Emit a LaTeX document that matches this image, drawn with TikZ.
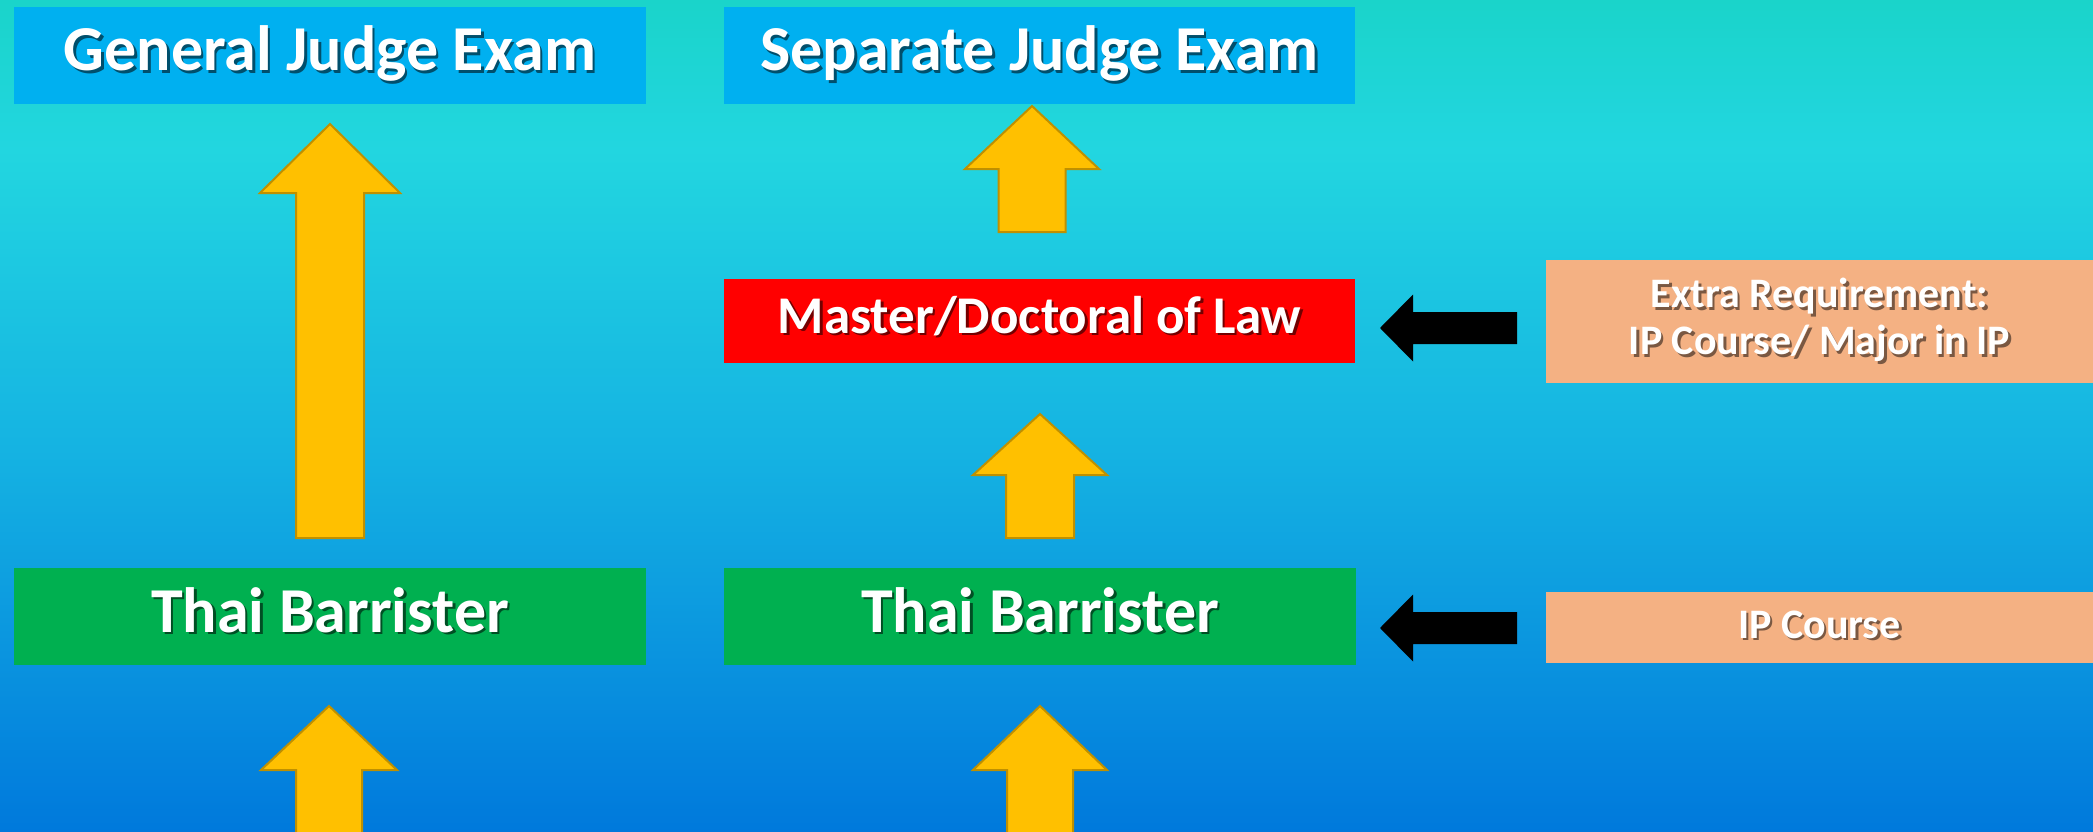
\documentclass[tikz,border=0pt]{standalone}
\usepackage{fontspec}
\setmainfont{Carlito}
\usetikzlibrary{calc}
\definecolor{bgtop}{HTML}{1AD4CA}
\definecolor{bgup}{HTML}{22D6E0}
\definecolor{bgmid}{HTML}{15B3E2}
\definecolor{bgbot}{HTML}{0079DC}
\definecolor{exam}{HTML}{00B0F0}
\definecolor{bar}{HTML}{00B050}
\definecolor{mast}{HTML}{FF0000}
\definecolor{req}{HTML}{F4B183}
\definecolor{gold}{HTML}{FFC000}
\definecolor{goldline}{HTML}{BF9000}
\pgfdeclareverticalshading{bgshade}{100bp}{color(0bp)=(bgbot); color(25bp)=(bgbot); color(48bp)=(bgmid); color(66bp)=(bgup); color(75bp)=(bgtop); color(100bp)=(bgtop)}
\newcommand\shd[2]{\makebox[0pt][l]{\kern2.5pt\raisebox{-2.5pt}{\textcolor{#1}{#2}}}#2}
\newcommand\uparr[6]{\filldraw[goldarrow] (#1,#2) -- ({#1+#5},#3) -- ({#1+#6},#3) -- ({#1+#6},#4) -- ({#1-#6},#4) -- ({#1-#6},#3) -- ({#1-#5},#3) -- cycle;}
\newcommand\leftarr[2]{\fill[blackarrow] (#1,#2) -- ({#1+33},{#2-33.5}) -- ({#1+33},{#2-16}) -- ({#1+137},{#2-16}) -- ({#1+137},{#2+16}) -- ({#1+33},{#2+16}) -- ({#1+33},{#2+33.5}) -- cycle;}
\tikzset{
  box/.style={rectangle, inner sep=0pt, text=white, align=center},
  bigtxt/.style={font=\fontsize{64}{70}\selectfont\bfseries, text height=46pt, text depth=15pt},
  midtxt/.style={font=\fontsize{53}{58}\selectfont\bfseries, text height=38pt, text depth=14pt},
  smalltxt/.style={font=\fontsize{42}{47}\selectfont\bfseries},
  goldarrow/.style={fill=gold, draw=goldline, line width=2pt, line join=miter},
  blackarrow/.style={fill=black},
}
\begin{document}
\begin{tikzpicture}[x=1pt,y=-1pt]
\useasboundingbox (0,0) rectangle (2093,832);
\clip (0,0) rectangle (2093,832);
\fill[shading=bgshade] (0,0) rectangle (2093,832);

\node[box, bigtxt, fill=exam, minimum width=632pt, minimum height=97pt] (gen) at (330,55.5) {\shd{exam!45!black}{General Judge Exam}};
\node[box, bigtxt, fill=exam, minimum width=631pt, minimum height=97pt] (sep) at (1039.5,55.5) {\shd{exam!45!black}{Separate Judge Exam}};
\node[box, midtxt, fill=mast, minimum width=631pt, minimum height=84pt] (mast) at (1039.5,321) {\shd{mast!45!black}{Master/Doctoral of Law}};
\node[box, bigtxt, fill=bar, minimum width=632pt, minimum height=97pt] (tb1) at (330,616.5) {\shd{bar!45!black}{Thai Barrister}};
\node[box, bigtxt, fill=bar, minimum width=632pt, minimum height=97pt] (tb2) at (1040,616.5) {\shd{bar!45!black}{Thai Barrister}};
\node[box, smalltxt, fill=req, minimum width=547pt, minimum height=123pt] (extra) at (1819.5,321.5) {\shd{req!50!black}{Extra Requirement:}\\\shd{req!50!black}{IP Course/ Major in IP}};
\node[box, smalltxt, fill=req, minimum width=547pt, minimum height=71pt, text height=30pt, text depth=9pt] (ipc) at (1819.5,627.5) {\shd{req!50!black}{IP Course}};

\uparr{330}{124}{193}{538}{70}{34}
\uparr{1032}{106}{169}{232}{67}{33.5}
\uparr{1040}{414}{475}{538}{67}{34}
\uparr{329}{706}{770}{845}{68}{33}
\uparr{1040}{706}{770}{845}{67}{33}

\leftarr{1380}{328}
\leftarr{1380}{628}
\end{tikzpicture}
\end{document}
